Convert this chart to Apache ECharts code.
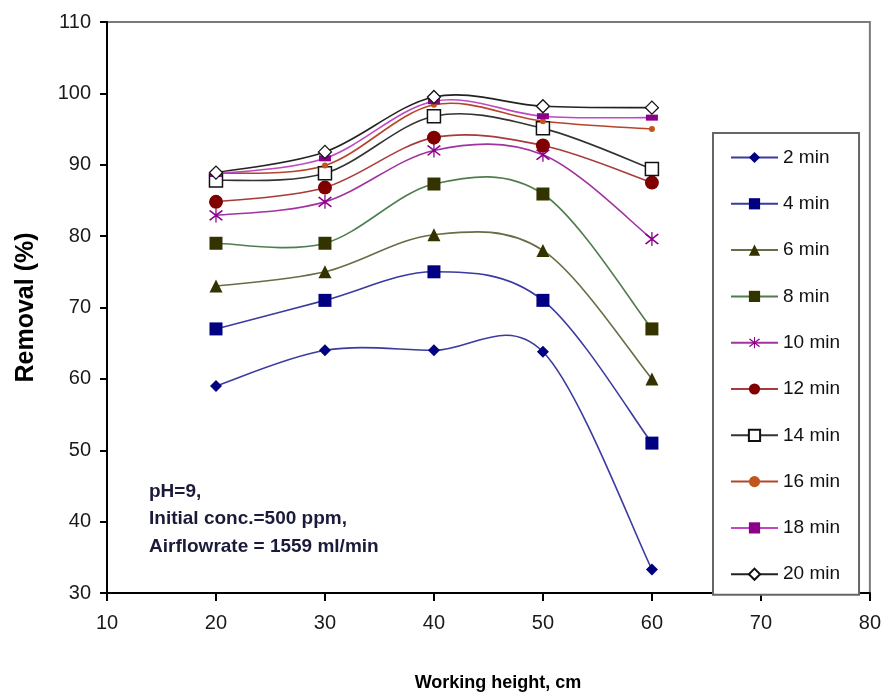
<!DOCTYPE html>
<html>
<head>
<meta charset="utf-8">
<script src="https://cdn.jsdelivr.net/npm/echarts@6/dist/echarts.min.js"></script>
<style>html,body{margin:0;padding:0;background:#fff;}#c{width:884px;height:696px;}</style>
</head>
<body>
<div id="c"></div>
<script>
// ---- data ----
const heights = [20, 30, 40, 50, 60];
const seriesNames = ['2 min', '4 min', '6 min', '8 min', '10 min', '12 min', '14 min', '16 min', '18 min', '20 min'];
const min2  = [59.0, 64.0, 64.0, 63.8, 33.3];
const min4  = [67.0, 71.0, 75.0, 71.0, 51.0];
const min6  = [73.0, 75.0, 80.2, 78.0, 60.0];
const min8  = [79.0, 79.0, 87.3, 85.9, 67.0];
const min10 = [82.9, 84.8, 92.0, 91.4, 79.6];
const min12 = [84.8, 86.8, 93.8, 92.7, 87.5];
const min14 = [87.8, 88.8, 96.8, 95.1, 89.4];
const min16 = [88.8, 89.9, 98.4, 96.1, 95.0];
const min18 = [88.7, 90.9, 98.9, 96.8, 96.6];
const min20 = [88.9, 91.8, 99.5, 98.2, 98.0];
const xTicks = [10, 20, 30, 40, 50, 60, 70, 80];
const yTicks = [30, 40, 50, 60, 70, 80, 90, 100, 110];
const annotationLines = ['pH=9,', 'Initial conc.=500 ppm,', 'Airflowrate = 1559 ml/min'];

const allValues = [min2, min4, min6, min8, min10, min12, min14, min16, min18, min20];

// ---- styles ----
function hasFont(name) {
  const ctx = document.createElement('canvas').getContext('2d');
  const s = 'abcdefghijklm0123456789';
  ctx.font = '40px monospace';
  const w1 = ctx.measureText(s).width;
  ctx.font = "40px '" + name + "', monospace";
  const w2 = ctx.measureText(s).width;
  return Math.abs(w1 - w2) > 0.5;
}
const NARROW = hasFont('Liberation Sans Narrow');
const tickFont = NARROW ? "'Liberation Sans Narrow', 'Liberation Sans', Arial, sans-serif" : "'Liberation Sans', Arial, sans-serif";
const tickSize = NARROW ? 23 : 20;
const legendSize = NARROW ? 23 : 19;
const xTitleSize = NARROW ? 22 : 18;

const asterisk = 'path://M9.3,0L10.7,0L10.7,20L9.3,20Z M3.71,2.29L17.71,16.29L16.29,17.71L2.29,3.71Z M16.29,2.29L17.71,3.71L3.71,17.71L2.29,16.29Z';

const styles = [
  {line: '#3a3aa0', symbol: 'diamond', size: 12, item: {color: '#000080'}},
  {line: '#3a3aa0', symbol: 'rect', size: 13, item: {color: '#000080'}},
  {line: '#6b6b45', symbol: 'triangle', size: 13, item: {color: '#333300'}},
  {line: '#4f7d4f', symbol: 'rect', size: 13, item: {color: '#333300'}},
  {line: '#a033a0', symbol: asterisk, size: 14, item: {color: '#8b008b'}},
  {line: '#a83a3a', symbol: 'circle', size: 14, item: {color: '#800000'}},
  {line: '#333333', symbol: 'rect', size: 13, item: {color: '#ffffff', borderColor: '#111', borderWidth: 1.5}},
  {line: '#b5452a', symbol: 'circle', size: 6, item: {color: '#c0561c'}},
  {line: '#c048c0', symbol: 'rect', size: [12, 6], item: {color: '#8b008b'}},
  {line: '#222222', symbol: 'diamond', size: 13, item: {color: '#ffffff', borderColor: '#111', borderWidth: 1.3}}
];

function curveSeries(ys, color, idx) {
  return {
    type: 'custom',
    name: 'curve' + idx,
    coordinateSystem: 'cartesian2d',
    silent: true,
    z: 2,
    data: heights.map((x, i) => [x, ys[i]]),
    encode: {x: 0, y: 1},
    renderItem: function (params, api) {
      const i = params.dataIndex;
      const n = heights.length;
      if (i >= n - 1) return null;
      const P = k => { k = Math.max(0, Math.min(n - 1, k)); return api.coord([heights[k], ys[k]]); };
      const p0 = P(i - 1), p1 = P(i), p2 = P(i + 1), p3 = P(i + 2);
      return {
        type: 'bezierCurve',
        shape: {
          x1: p1[0], y1: p1[1], x2: p2[0], y2: p2[1],
          cpx1: p1[0] + (p2[0] - p0[0]) / 6, cpy1: p1[1] + (p2[1] - p0[1]) / 6,
          cpx2: p2[0] - (p3[0] - p1[0]) / 6, cpy2: p2[1] - (p3[1] - p1[1]) / 6
        },
        style: {stroke: color, lineWidth: 1.6, fill: null}
      };
    }
  };
}

const series = [];
allValues.forEach((ys, k) => {
  series.push(curveSeries(ys, styles[k].line, k));
});
allValues.forEach((ys, k) => {
  const st = styles[k];
  series.push({
    type: 'line',
    name: seriesNames[k],
    z: 3,
    data: heights.map((x, i) => [x, ys[i]]),
    symbol: st.symbol,
    symbolSize: st.size,
    showSymbol: true,
    itemStyle: Object.assign({}, st.item),
    lineStyle: {opacity: 0, color: st.line},
    emphasis: {disabled: true},
    animation: false
  });
});

const legendData = seriesNames.map((n, k) => ({
  name: n,
  lineStyle: {color: styles[k].line, width: 2, opacity: 1}
}));

const chart = echarts.init(document.getElementById('c'), null, {renderer: 'canvas'});
chart.setOption({
  backgroundColor: '#ffffff',
  animation: false,
  grid: {left: 107, right: 11, top: 22, bottom: 103, show: true, borderColor: '#7a7a7a', borderWidth: 2, backgroundColor: '#fff'},
  xAxis: {
    type: 'value', min: xTicks[0], max: xTicks[xTicks.length - 1], interval: 10,
    axisLine: {show: true, onZero: false, lineStyle: {color: '#000', width: 2}},
    axisTick: {show: true, inside: false, length: 8, lineStyle: {color: '#000', width: 2}},
    axisLabel: {margin: 20, fontSize: tickSize, fontFamily: tickFont, color: '#1a1a1a'},
    splitLine: {show: false}
  },
  yAxis: {
    type: 'value', min: yTicks[0], max: yTicks[yTicks.length - 1], interval: 10,
    name: 'Removal (%)', nameLocation: 'middle', nameGap: 68,
    nameTextStyle: {fontSize: 25, fontWeight: 'bold', fontFamily: "'Liberation Sans', Arial, sans-serif", color: '#000'},
    axisLine: {show: true, onZero: false, lineStyle: {color: '#000', width: 2}},
    axisTick: {show: true, inside: false, length: 7, lineStyle: {color: '#000', width: 2}},
    axisLabel: {margin: 16, fontSize: tickSize, fontFamily: tickFont, color: '#1a1a1a'},
    splitLine: {show: false}
  },
  legend: {
    data: legendData,
    orient: 'vertical',
    left: 713, top: 133,
    padding: [15, 19, 11, 17],
    itemGap: 27.3,
    itemWidth: 47, itemHeight: 14,
    borderColor: '#666', borderWidth: 2, backgroundColor: '#fff',
    textStyle: {fontSize: legendSize, lineHeight: 18, fontFamily: tickFont, color: '#111'},
    selectedMode: false
  },
  graphic: [
    {
      type: 'text', left: 149, top: 478, z: 10,
      style: {text: annotationLines.join('\n'), fontSize: 19, fontWeight: 'bold', lineHeight: 27.5,
              fontFamily: "'Liberation Sans', Arial, sans-serif", fill: '#1a1a3a'}
    },
    {
      type: 'text', x: 498, y: 683, z: 10,
      style: {text: 'Working height, cm', fontSize: xTitleSize, fontWeight: 'bold', fontFamily: tickFont,
              fill: '#000', textAlign: 'center', textVerticalAlign: 'middle'}
    }
  ],
  series: series
});
</script>
</body>
</html>
